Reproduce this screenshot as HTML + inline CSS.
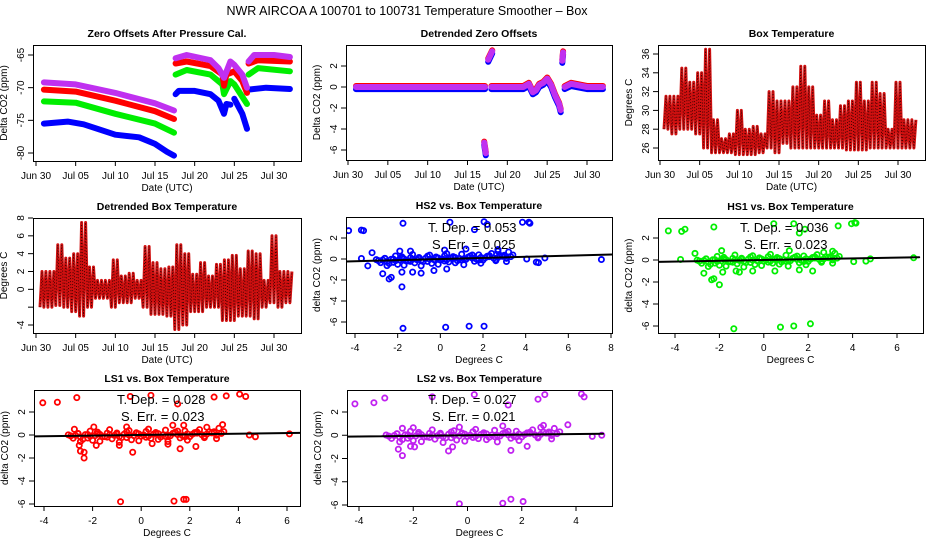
<!DOCTYPE html>
<html><head><meta charset="utf-8"><style>
html,body{margin:0;padding:0;background:#fff;}
svg{display:block;font-family:"Liberation Sans",sans-serif;}
</style></head><body>
<svg id="c" width="936" height="540" viewBox="0 0 936 540">
<text x="407" y="15" text-anchor="middle" font-size="12.5">NWR   AIRCOA A   100701 to 100731   Temperature Smoother – Box</text>
</svg>
<script>
// ---- Panel 1: zero offsets (day offset from Jun 30) ----
const p1Days = {
  ls2: [1,5,10,15,17.4,NaN,17.6,19,22,23,23.7,24.5,25,26,26.6,NaN,26.8,27.5,30,32],
  hs1: [1,5,10,15,17.4,NaN,17.6,19,22,23.5,23.7,24.5,25,26.6,NaN,26.8,28,32],
  ls1: [1,5,10,15,17.4,NaN,17.6,19,22,23.5,23.7,24,25,26,26.6,NaN,26.8,28,32],
  hs2: [1,4,6,10,13,15,16.5,17.4,NaN,17.6,18,20,22,23,23.7,24,24.5,NaN,25,26,26.6,NaN,26.8,29,32]
};
const p1Vals = {
  ls2: [-69.2,-69.5,-70.8,-72.4,-73.5,NaN,-65.5,-65,-65.8,-67,-68.5,-66,-66.5,-68,-70,NaN,-66,-65,-65,-65.3],
  hs1: [-72.1,-72.3,-74,-75.5,-76.9,NaN,-68,-67.3,-68,-69.5,-71,-69,-69.5,-72.5,NaN,-68,-67,-67.5],
  ls1: [-70.3,-70.6,-72,-73.6,-74.8,NaN,-66.3,-66,-66.7,-68,-69.7,-68,-67.5,-69,-70.8,NaN,-66.3,-65.8,-66],
  hs2: [-75.5,-75.2,-75.6,-77.2,-77.6,-78.6,-79.8,-80.4,NaN,-71,-70.5,-70.5,-71,-72,-74,-72.5,-72.6,NaN,-71.7,-74,-76.3,NaN,-70.3,-70,-70.2]
};
// ---- Panel 2: detrended zero offsets ----
const p2Days = [1,5,10,15,17.2,NaN,17.1,17.3,NaN,17.6,18.1,NaN,18,20,22,22.7,23.2,23.6,24,24.5,25,25.5,26,26.5,26.7,NaN,26.9,27,NaN,27.2,28,30,32];
const p2Vals = [0,0,0,0,0,NaN,-5.3,-6.3,NaN,2.6,3.4,NaN,0,0,0,0.3,-0.5,-0.3,0.2,0.4,0.8,0.2,-0.8,-1.6,-2.2,NaN,2.5,3.3,NaN,0,0.3,0,0];
// ---- Panel 3 / 4: box temperature daily ranges ----
const tempDays = [1,2,3,4,5,6,7,8,9,10,11,12,13,14,15,16,17,18,19,20,21,22,23,24,25,26,27,28,29,30,31,32];
const boxMin = [28,27.5,28,28,27.5,26,25.5,25.5,25.5,25.3,25.3,25.3,25.5,26,25.5,26.5,26,26,26,26,26,26,26,25.8,25.8,25.8,26,26,26,26,26,26];
const boxMax = [31.5,31.5,34.5,33,34,36.5,29,27,27.5,30,28,28.3,27.5,32,31,31,32.5,34.7,32.5,29.5,31,29,30.5,31,33,31,33,31.8,28,33,29,29];
const detMin = [-2,-2,-1.8,-2,-2.5,-3,-2,-1,-1,-2,-1.5,-1.5,-1,-2,-2.8,-2.8,-3,-4.5,-4,-2.5,-2.5,-2,-2,-3.5,-3.5,-3,-3,-3.3,-2,-1.5,-2,-1.5];
const detMax = [2,2,5,3.5,4,7.5,2.5,1,1,3.3,1.5,1.8,1,4.8,3,2.3,2.5,5,4,1.7,3,1.5,2.8,3.3,3.8,2.3,4.3,4,1,6,2,2];
// ---- Scatter panels ----
const clusterX = [-3.0,-2.8,-2.6,-2.4,-2.2,-2.0,-1.8,-1.6,-1.4,-1.2,-1.0,-0.8,-0.6,-0.4,-0.2,0,0.2,0.4,0.6,0.8,1.0,1.2,1.4,1.6,1.8,2.0,2.2,2.4,2.6,2.8,3.0,3.2,3.4,-2.5,-2.1,-1.7,-1.3,-0.9,-0.5,-0.1,0.3,0.7,1.1,1.5,1.9,2.3,2.7,3.1,
  -2.9,-2.7,-2.5,-2.3,-2.1,-1.9,-1.7,-1.5,-1.3,-1.1,-0.9,-0.7,-0.5,-0.3,-0.1,0.1,0.3,0.5,0.7,0.9,1.1,1.3,1.5,1.7,1.9,2.1,2.3,2.5,2.7,2.9,3.1,3.3,-2.6,-2.2,-1.8,-1.4,-1.0,-0.6,-0.2,0.2,0.6,1.0,1.4,1.8,2.2,2.6,3.0];
const clusterY = [0.1,-0.2,0.2,-0.3,0.1,-0.4,0.3,-0.1,0.2,-0.3,0.1,-0.2,0.3,-0.4,0.2,-0.1,0.3,-0.3,0.1,-0.2,0.4,-0.1,0.2,-0.3,0.3,-0.2,0.1,0.4,-0.3,0.2,0.1,0.5,0.2,-0.5,0.4,-0.5,0.5,-0.6,0.4,-0.5,0.5,-0.4,-0.6,0.3,-0.5,0.2,0.6,-0.4,
  0,0.05,-0.1,0.1,-0.05,0,0.1,-0.1,0.05,0,-0.1,0.1,0,-0.05,0.1,0,-0.1,0.05,0.1,0,-0.05,0.1,0,-0.1,0.05,0,0.1,-0.05,0,0.1,-0.1,0.05,0.2,-0.2,0.15,-0.15,0.2,-0.2,0.15,-0.2,0.2,-0.15,0.2,-0.2,0.15,-0.2,0.2];
const hs2X = [-4.3,-3.7,-3.6,-1.75,-3.7,-3.4,-3.2,-2.7,-2.4,-2.3,-1.8,-1.8,-1.3,-0.9,-0.3,0.2,0.45,1.6,2.05,2.2,3.85,4.15,4.2,1.2,2.7,-1.9,-1.4,-1.75,0.25,1.35,2.05,4.5,4.6,4.9,7.55,4.05,0.3];
const hs2Y = [2.7,2.75,2.7,3.4,0.05,-0.65,0.6,-1.4,-1.9,-1.75,-1.25,-2.65,-1.25,-1.35,-1.1,0.85,3.5,2.8,3.55,3.3,3.5,3.5,3.4,0.95,0.9,0.75,0.75,-6.6,-6.5,-6.4,-6.4,-0.3,-0.35,0.1,-0.05,0,-0.95];
const hs1X = [-4.3,-3.7,-3.55,-2.25,0.45,1.35,1.6,1.85,3.35,3.95,4.1,4.15,-3.75,-3.1,-2.7,-2.35,-2.25,-2.0,-1.85,-1.1,-1.25,-0.5,0.5,1.6,2.2,-1.9,-1.35,0.75,1.35,2.1,4.6,4.8,6.75,4.05,1.15,3.1];
const hs1Y = [2.65,2.6,2.8,3.0,3.3,3.3,2.45,2.8,3.1,3.3,3.4,3.35,0.05,0.6,-1.2,-1.8,-1.7,-2.25,-1.1,-1.1,-1.0,-1.0,-1.0,-0.9,-1.0,0.85,-6.25,-6.1,-6.0,-5.8,-0.1,0.1,0.2,-0.15,0.85,0.8];
const ls1X = [-4.05,-3.45,-2.65,-0.45,0.4,1.5,3.0,3.5,4.05,4.3,-2.5,-2.35,-2.35,-2.55,-1.85,-0.35,-0.9,1.6,2.25,-2.75,-1.95,-0.6,1.3,1.75,-0.85,1.35,1.75,1.85,4.45,4.7,6.1,3.35,0.45,1.1];
const ls1Y = [2.8,2.85,3.25,3.35,3.45,2.7,3.3,3.4,3.55,3.35,-1.4,-1.5,-2.0,-0.9,-0.9,-1.5,-0.9,-1.2,-1.0,0.5,0.7,0.7,0.85,0.85,-5.8,-5.75,-5.6,-5.6,0,-0.15,0.1,0.9,-0.75,-0.8];
const ls2X = [-4.15,-3.45,-3.05,-1.3,0.25,1.5,2.6,2.85,4.2,4.3,-2.55,-2.4,-2.1,-1.95,-0.7,-0.55,1.6,2.2,-2.4,-2.0,-0.3,1.3,2.8,-0.3,1.3,1.6,2.05,4.6,4.95,3.7];
const ls2Y = [2.7,2.8,3.2,3.3,3.5,2.6,3.1,3.5,3.55,3.3,-1.2,-1.75,-0.95,-1.0,-1.35,-1.0,-1.3,-0.95,0.6,0.65,0.7,0.8,0.85,-5.9,-5.85,-5.5,-5.7,-0.1,0,0.9];
const slopes = [0.053,0.036,0.028,0.027];
const slopeLabels = ["0.053","0.036","0.028","0.027"];
const errLabels = ["0.025","0.023","0.023","0.021"];
const dateTicks = [0,5,10,15,20,25,30];
const dateLabels = ["Jun 30","Jul 05","Jul 10","Jul 15","Jul 20","Jul 25","Jul 30"];

const NS="http://www.w3.org/2000/svg";
const svg=document.getElementById('c');
function el(tag,attrs,parent,txt){const e=document.createElementNS(NS,tag);for(const k in attrs)e.setAttribute(k,attrs[k]);if(txt!==undefined)e.textContent=txt;(parent||svg).appendChild(e);return e;}

function panel(name,box,xr,yr,title,xTitle,yTitle){
  const g=el('g',{});
  
  
  const [x0,y0,x1,y1]=box;
  const sx=v=>xr[2]+(v-xr[0])*(xr[3]-xr[2])/(xr[1]-xr[0]);
  const sy=v=>yr[2]+(v-yr[0])*(yr[3]-yr[2])/(yr[1]-yr[0]);
  const t=el('text',{x:(x0+x1)/2,y:y0-8,'text-anchor':'middle','font-size':10.5,'font-weight':'bold'},g,title);
  
  
  const xt=el('text',{x:(x0+x1)/2,y:y1+30,'text-anchor':'middle','font-size':10},g,xTitle);
  
  
  const yt=el('text',{x:0,y:0,'text-anchor':'middle','font-size':10,transform:`translate(${x0-26},${(y0+y1)/2}) rotate(-90)`},g,yTitle);
  
  
  const plot=el('g',{},g);
  
  
  const clip='cl'+name;
  const cp=el('clipPath',{id:clip},g);el('rect',{x:x0,y:y0,width:x1-x0,height:y1-y0},cp);
  plot.setAttribute('clip-path',`url(#${clip})`);
  const fr=el('rect',{x:x0+.5,y:y0+.5,width:x1-x0,height:y1-y0,fill:'none',stroke:'#000','stroke-width':1},g);
  
  
  return {g,plot,sx,sy,box};
}
function xAxis(P,ticks,labels){
  const [x0,y0,x1,y1]=P.box;
  const a=el('g',{},P.g);
  
  
  el('line',{x1:P.sx(ticks[0]),x2:P.sx(ticks[ticks.length-1]),y1:y1+.5,y2:y1+.5,stroke:'#000'},a);
  ticks.forEach((v,i)=>{const x=P.sx(v);el('line',{x1:x,x2:x,y1:y1,y2:y1+5,stroke:'#000'},a);
    const tl=el('text',{x:x,y:y1+18,'text-anchor':'middle','font-size':10},a,labels[i]);
    
    });
}
function yAxis(P,ticks,labels){
  const [x0,y0,x1,y1]=P.box;
  const a=el('g',{},P.g);
  
  
  el('line',{y1:P.sy(ticks[0]),y2:P.sy(ticks[ticks.length-1]),x1:x0+.5,x2:x0+.5,stroke:'#000'},a);
  ticks.forEach((v,i)=>{const y=P.sy(v);el('line',{y1:y,y2:y,x1:x0,x2:x0-5,stroke:'#000'},a);
    if(labels[i]==='')return;
    const tl=el('text',{x:0,y:0,'text-anchor':'middle','font-size':10,transform:`translate(${x0-9},${y}) rotate(-90)`},a,labels[i]);
    
    });
}
function pathOf(P,xs,ys){let d='',pen=false;for(let i=0;i<xs.length;i++){if(isNaN(xs[i])||isNaN(ys[i])){pen=false;continue;}d+=(pen?'L':'M')+P.sx(xs[i]).toFixed(1)+' '+P.sy(ys[i]).toFixed(1);pen=true;}return d;}
function series(P,name,xs,ys,color,w){
  const p=el('path',{d:pathOf(P,xs,ys),fill:'none',stroke:color,'stroke-width':w,'stroke-linecap':'round','stroke-linejoin':'round'},P.plot);
  
  
  return p;
}
function zig(P,name,days,mn,mx,color){
  const xs=[],ys=[];
  for(let i=0;i<days.length;i++){xs.push(days[i]-0.5,days[i]-0.25,days[i],days[i]+0.25);ys.push(mn[i],mx[i],mn[i],mx[i]);}
  const p=el('path',{d:pathOf(P,xs,ys),fill:'none',stroke:color,'stroke-width':3,'stroke-linejoin':'round'},P.plot);
  
  
  const p2=el('path',{d:pathOf(P,xs,ys),fill:'none',stroke:'#300','stroke-width':0.9,'stroke-dasharray':'1 2'},P.plot);
  
  
}
function scatter(P,name,xs,ys,color){
  const g=el('g',{},P.plot);
  
  
  for(let i=0;i<xs.length;i++){
    const c=el('circle',{cx:P.sx(xs[i]),cy:P.sy(ys[i]),r:2.6,fill:'none',stroke:color,'stroke-width':1.8},g);
    
    
  }
}

// Panel 1
let P=panel('zero-offsets-panel',[33,45,301,161],[0,30,36,274],[-65,-80,55,153],'Zero Offsets After Pressure Cal.','Date (UTC)','Delta CO2 (ppm)');
xAxis(P,dateTicks,dateLabels);yAxis(P,[-80,-75,-70,-65],['-80','-75','-70','-65']);
series(P,'hs2-series',p1Days.hs2,p1Vals.hs2,'#0000ff',6);
series(P,'hs1-series',p1Days.hs1,p1Vals.hs1,'#00ee00',6);
series(P,'ls1-series',p1Days.ls1,p1Vals.ls1,'#ff0000',6);
series(P,'ls2-series',p1Days.ls2,p1Vals.ls2,'#c030f0',6);

// Panel 2
P=panel('detrended-zero-offsets-panel',[346,45,612,160],[0,30,348,587],[2,-6,66,150],'Detrended Zero Offsets','Date (UTC)','Delta CO2 (ppm)');
xAxis(P,dateTicks,dateLabels);yAxis(P,[-6,-4,-2,0,2],['-6','-4','-2','0','2']);
series(P,'detrended-hs2',p2Days,p2Vals.map(v=>v-0.2),'#0000ff',6);
series(P,'detrended-ls1',p2Days,p2Vals.map(v=>v+0.1),'#ff0000',6);
series(P,'detrended-ls2',p2Days,p2Vals,'#c030f0',6);

// Panel 3
P=panel('box-temperature-panel',[658,45,925,160],[0,30,660,898],[36,26,54,148],'Box Temperature','Date (UTC)','Degrees C');
xAxis(P,dateTicks,dateLabels);yAxis(P,[26,28,30,32,34,36],['26','28','30','32','34','36']);
zig(P,'box-temp-series',tempDays,boxMin,boxMax,'#d01010');

// Panel 4
P=panel('detrended-box-temp-panel',[33,218,301,333],[0,30,36,274],[8,-4,218,325],'Detrended Box Temperature','Date (UTC)','Degrees C');
xAxis(P,dateTicks,dateLabels);yAxis(P,[-4,-2,0,2,4,6,8],['-4','','0','2','4','6','8']);
zig(P,'detrended-temp-series',tempDays,detMin,detMax,'#d01010');

// Scatter panels
const sp=[
 ['hs2-vs-temp-panel',[346,217,612,333],[-4,8,355,611],[2,-6,238,322],'HS2 vs. Box Temperature',hs2X,hs2Y,'#0000ff',[-4,-2,0,2,4,6,8],[428,232]],
 ['hs1-vs-temp-panel',[658,218,923,333],[-4,6,675,897],[2,-6,238,326],'HS1 vs. Box Temperature',hs1X,hs1Y,'#00ee00',[-4,-2,0,2,4,6],[740,232]],
 ['ls1-vs-temp-panel',[34,390,300,506],[-4,6,44,287],[2,-6,412,504],'LS1 vs. Box Temperature',ls1X,ls1Y,'#ff0000',[-4,-2,0,2,4,6],[117,404]],
 ['ls2-vs-temp-panel',[347,390,612,506],[-4,4,359,576],[2,-6,412,505],'LS2 vs. Box Temperature',ls2X,ls2Y,'#c020f0',[-4,-2,0,2,4],[428,404]]
];
sp.forEach((s,k)=>{
  const Q=panel(s[0],s[1],s[2],s[3],s[4],'Degrees C','delta CO2 (ppm)');
  xAxis(Q,s[8],s[8].map(String));yAxis(Q,[-6,-4,-2,0,2],['-6','-4','-2','0','2']);
  const cy=clusterY.map((v,i)=>v+slopes[k]*clusterX[i]);
  scatter(Q,'scatter-points',clusterX.concat(s[5]),cy.concat(s[6]),s[7]);
  const lo=s[2][0]-1, hi=s[2][1]+1;
  series(Q,'regression-line',[lo,hi],[slopes[k]*lo,slopes[k]*hi],'#000',2);
  const t1=el('text',{x:s[9][0],y:s[9][1],'font-size':13},Q.g,'T. Dep. =  '+slopeLabels[k]);
  
  
  const t2=el('text',{x:s[9][0]+4,y:s[9][1]+17,'font-size':13},Q.g,'S. Err. =  '+errLabels[k]);
  
  
});
</script>
</body></html>
